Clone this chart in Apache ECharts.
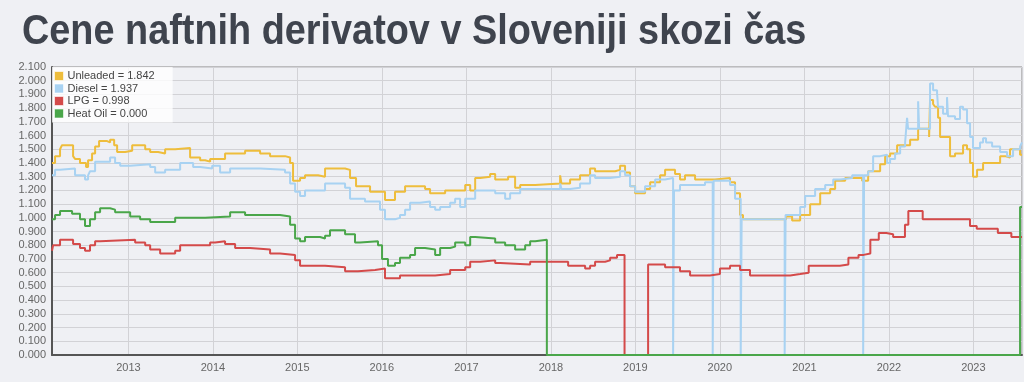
<!DOCTYPE html>
<html>
<head>
<meta charset="utf-8">
<script src="https://cdn.jsdelivr.net/npm/echarts@6/dist/echarts.min.js"></script>
<style>
html,body{margin:0;padding:0;background:#eff0f4;}
#c{width:1024px;height:382px;}
</style>
</head>
<body>
<div id="c"></div>
<script>
const titleText = 'Cene naftnih derivatov v Sloveniji skozi čas';
const seriesNames = ['Unleaded', 'Diesel', 'LPG', 'Heat Oil'];
const legendValues = ['1.842', '1.937', '0.998', '0.000'];
const seriesColors = ['#eebd3c', '#a8d2f2', '#d44a4a', '#4aa64a'];

// [decimal year, price]
const unleaded = [
[2012.097,1.40],[2012.133,1.45],[2012.192,1.50],[2012.215,1.53],[2012.346,1.45],[2012.369,1.43],[2012.428,1.40],
[2012.499,1.37],[2012.523,1.42],[2012.570,1.47],[2012.606,1.52],[2012.653,1.56],[2012.748,1.55],[2012.783,1.57],
[2012.831,1.53],[2012.866,1.48],[2012.961,1.49],[2013.044,1.53],[2013.198,1.50],[2013.257,1.48],[2013.351,1.47],
[2013.434,1.50],[2013.553,1.51],[2013.730,1.44],[2013.849,1.42],[2013.908,1.41],[2013.967,1.43],[2014.144,1.47],
[2014.381,1.49],[2014.559,1.47],[2014.677,1.45],[2014.854,1.44],[2014.914,1.40],[2014.949,1.27],[2015.032,1.29],
[2015.091,1.31],[2015.245,1.30],[2015.328,1.36],[2015.565,1.35],[2015.624,1.29],[2015.695,1.23],[2015.861,1.19],
[2016.038,1.13],[2016.156,1.19],[2016.275,1.23],[2016.511,1.21],[2016.570,1.18],[2016.748,1.20],[2016.985,1.24],
[2017.044,1.20],[2017.103,1.29],[2017.162,1.30],[2017.280,1.32],[2017.340,1.28],[2017.493,1.30],[2017.576,1.22],
[2017.636,1.24],[2017.813,1.25],[2018.109,1.31],[2018.125,1.25],[2018.227,1.28],[2018.345,1.31],[2018.464,1.36],
[2018.523,1.34],[2018.760,1.35],[2018.819,1.38],[2018.878,1.33],[2018.937,1.23],[2018.997,1.18],[2019.115,1.21],
[2019.175,1.26],[2019.293,1.31],[2019.352,1.35],[2019.470,1.32],[2019.529,1.28],[2019.588,1.31],[2019.707,1.28],
[2019.943,1.29],[2020.121,1.26],[2020.180,1.18],[2020.239,1.02],[2020.274,0.99],[2020.783,1.01],[2020.854,0.98],
[2020.949,1.02],[2021.067,1.10],[2021.186,1.18],[2021.304,1.21],[2021.363,1.27],[2021.482,1.29],[2021.683,1.27],
[2021.754,1.34],[2021.896,1.39],[2021.955,1.45],[2022.014,1.47],[2022.097,1.53],[2022.251,1.57],[2022.346,1.65],
[2022.476,1.59],[2022.487,1.86],[2022.523,1.83],[2022.546,1.81],[2022.582,1.73],[2022.606,1.59],[2022.724,1.45],
[2022.783,1.47],[2022.878,1.53],[2022.925,1.50],[2022.961,1.40],[2022.996,1.30],[2023.044,1.35],[2023.115,1.40],
[2023.317,1.45],[2023.376,1.44],[2023.434,1.50],[2023.553,1.46],[2023.576,1.46]
];

const diesel = [
[2012.097,1.31],[2012.133,1.35],[2012.192,1.36],[2012.369,1.31],[2012.487,1.28],[2012.523,1.31],[2012.546,1.34],
[2012.606,1.41],[2012.783,1.44],[2012.842,1.40],[2012.902,1.38],[2013.020,1.39],[2013.257,1.37],[2013.316,1.33],
[2013.434,1.35],[2013.612,1.40],[2013.766,1.37],[2013.849,1.36],[2013.991,1.38],[2014.085,1.33],[2014.204,1.36],
[2014.559,1.35],[2014.854,1.33],[2014.914,1.25],[2014.973,1.19],[2015.032,1.16],[2015.091,1.20],[2015.328,1.25],
[2015.565,1.22],[2015.624,1.14],[2015.801,1.12],[2015.979,1.06],[2016.038,0.99],[2016.156,1.00],[2016.215,1.02],
[2016.275,1.06],[2016.334,1.11],[2016.452,1.12],[2016.570,1.08],[2016.630,1.06],[2016.689,1.08],[2016.807,1.11],
[2016.866,1.14],[2016.925,1.08],[2016.985,1.14],[2017.103,1.20],[2017.340,1.18],[2017.458,1.14],[2017.517,1.18],
[2017.636,1.21],[2018.109,1.25],[2018.125,1.21],[2018.227,1.22],[2018.345,1.25],[2018.464,1.31],[2018.523,1.29],
[2018.701,1.30],[2018.819,1.34],[2018.878,1.31],[2018.937,1.23],[2018.997,1.19],[2019.115,1.23],[2019.234,1.28],
[2019.352,1.29],[2019.447,0],[2019.458,1.20],[2019.529,1.24],[2019.825,1.26],[2019.916,0],[2019.927,1.27],
[2020.121,1.24],[2020.180,1.14],[2020.247,0],[2020.258,0.99],[2020.766,0],[2020.777,1.02],[2020.949,1.08],
[2021.008,1.16],[2021.126,1.21],[2021.245,1.24],[2021.340,1.28],[2021.422,1.29],[2021.565,1.31],[2021.695,0],
[2021.706,1.31],[2021.754,1.34],[2021.813,1.45],[2021.896,1.46],[2021.979,1.40],[2022.014,1.43],[2022.073,1.47],
[2022.133,1.52],[2022.192,1.55],[2022.215,1.73],[2022.227,1.65],[2022.346,1.85],[2022.358,1.65],[2022.487,1.98],
[2022.523,1.93],[2022.570,1.91],[2022.582,1.81],[2022.641,1.76],[2022.688,1.88],[2022.700,1.74],[2022.783,1.72],
[2022.842,1.81],[2022.878,1.79],[2022.925,1.69],[2022.961,1.59],[2022.996,1.51],[2023.079,1.55],[2023.115,1.58],
[2023.150,1.55],[2023.222,1.52],[2023.317,1.48],[2023.399,1.45],[2023.470,1.50],[2023.553,1.52],[2023.576,1.55]
];

const lpg = [
[2012.097,0.76],[2012.110,0.80],[2012.192,0.84],[2012.346,0.81],[2012.428,0.78],[2012.487,0.76],[2012.546,0.80],
[2012.606,0.83],[2012.665,0.84],[2013.079,0.82],[2013.198,0.80],[2013.257,0.77],[2013.375,0.74],[2013.553,0.76],
[2013.612,0.80],[2013.967,0.82],[2014.026,0.83],[2014.144,0.81],[2014.263,0.78],[2014.440,0.77],[2014.677,0.74],
[2014.795,0.73],[2014.973,0.69],[2015.032,0.65],[2015.328,0.64],[2015.565,0.61],[2015.719,0.62],[2015.920,0.63],
[2016.038,0.56],[2016.215,0.58],[2016.630,0.59],[2016.807,0.62],[2016.985,0.64],[2017.044,0.68],[2017.162,0.69],
[2017.340,0.67],[2017.399,0.66],[2017.754,0.68],[2018.204,0.65],[2018.405,0.63],[2018.464,0.65],[2018.523,0.68],
[2018.642,0.69],[2018.701,0.71],[2018.783,0.73],[2018.872,0],[2019.151,0.66],[2019.352,0.64],[2019.529,0.61],
[2019.648,0.58],[2019.884,0.59],[2020.002,0.63],[2020.121,0.65],[2020.239,0.62],[2020.357,0.58],[2020.831,0.59],
[2020.949,0.60],[2021.050,0.65],[2021.420,0.66],[2021.520,0.71],[2021.640,0.73],[2021.700,0.74],[2021.780,0.84],
[2021.880,0.89],[2021.970,0.88],[2022.050,0.86],[2022.190,0.95],[2022.230,1.05],[2022.400,0.99],[2022.960,0.94],
[2023.040,0.92],[2023.290,0.89],[2023.450,0.86],[2023.576,0.86]
];

const heatOil = [
[2012.097,0.99],[2012.133,1.02],[2012.192,1.05],[2012.334,1.03],[2012.428,0.99],[2012.487,0.94],[2012.546,0.99],
[2012.606,1.04],[2012.665,1.07],[2012.783,1.06],[2012.842,1.04],[2013.020,1.01],[2013.138,0.99],[2013.257,0.97],
[2013.553,1.00],[2013.908,1.01],[2014.204,1.04],[2014.381,1.02],[2014.795,1.01],[2014.914,0.95],[2014.973,0.85],
[2015.032,0.83],[2015.091,0.86],[2015.269,0.85],[2015.328,0.87],[2015.387,0.91],[2015.565,0.88],[2015.683,0.82],
[2015.742,0.83],[2015.955,0.80],[2016.003,0.70],[2016.073,0.65],[2016.156,0.67],[2016.215,0.71],[2016.334,0.73],
[2016.393,0.78],[2016.511,0.77],[2016.630,0.73],[2016.689,0.78],[2016.807,0.79],[2016.866,0.82],[2016.985,0.80],
[2017.044,0.86],[2017.103,0.85],[2017.340,0.82],[2017.458,0.80],[2017.576,0.77],[2017.695,0.80],[2017.754,0.83],
[2017.813,0.84],[2017.952,0],[2023.553,1.08],[2023.576,1.08]
];

const xMinYear = 2012.097, xMaxYear = 2023.576;

function toTime(y) {
  const yr = Math.floor(y);
  const s = new Date(yr, 0, 1).getTime();
  const e = new Date(yr + 1, 0, 1).getTime();
  return s + (y - yr) * (e - s);
}
const conv = arr => arr.map(p => [toTime(p[0]), p[1]]);
const allData = [unleaded, diesel, lpg, heatOil];

const chart = echarts.init(document.getElementById('c'), null, {renderer: 'canvas'});
const YEAR = 365.25 * 864e5;
chart.setOption({
  backgroundColor: '#eff0f4',
  animation: false,
  graphic: [{
    type: 'text', x: 22, y: 11, scaleX: 0.88,
    style: {text: titleText, font: 'bold 43px "Liberation Sans", Arial, sans-serif', fill: '#3f444e', verticalAlign: 'top'}
  }],
  legend: {
    orient: 'vertical', left: 52, top: 67,
    padding: [3, 18, 3, 2], itemGap: 0.5, itemWidth: 9, itemHeight: 9,
    backgroundColor: 'rgba(255,255,255,0.8)',
    icon: 'rect',
    itemStyle: {borderColor: 'rgba(255,255,255,0.6)', borderWidth: 1},
    textStyle: {fontSize: 11, color: '#444', fontFamily: '"Liberation Sans", Arial, sans-serif', lineHeight: 12, padding: [0,0,0,-1]},
    formatter: name => name + ' = ' + legendValues[seriesNames.indexOf(name)],
    data: seriesNames
  },
  grid: {left: 52, right: 2, top: 67, bottom: 27, show: true, borderColor: '#888', borderWidth: 1},
  xAxis: {
    type: 'time', min: toTime(xMinYear), max: toTime(xMaxYear),
    minInterval: YEAR * 0.98, maxInterval: YEAR * 1.02,
    axisLine: {lineStyle: {color: '#555', width: 2}},
    axisTick: {show: false},
    axisLabel: {formatter: '{yyyy}', color: '#666', fontSize: 11, margin: 7, fontFamily: '"Liberation Sans", Arial, sans-serif', showMinLabel: false, showMaxLabel: false, fontWeight: 'normal'},
    splitLine: {show: true, lineStyle: {color: '#d2d2d6', width: 1}}
  },
  yAxis: {
    type: 'value', min: 0, max: 2.1, interval: 0.1,
    axisLine: {show: true, lineStyle: {color: '#555', width: 2}},
    axisTick: {show: false},
    axisLabel: {formatter: v => v.toFixed(3), color: '#666', fontSize: 11, margin: 6, fontFamily: '"Liberation Sans", Arial, sans-serif'},
    splitLine: {show: true, lineStyle: {color: '#d2d2d6', width: 1}}
  },
  series: seriesNames.map((n, i) => ({
    name: n, type: 'line', step: 'end', showSymbol: false, symbol: 'none',
    data: conv(allData[i]),
    itemStyle: {color: seriesColors[i]},
    lineStyle: {color: seriesColors[i], width: 2}
  }))
});
</script>
</body>
</html>
